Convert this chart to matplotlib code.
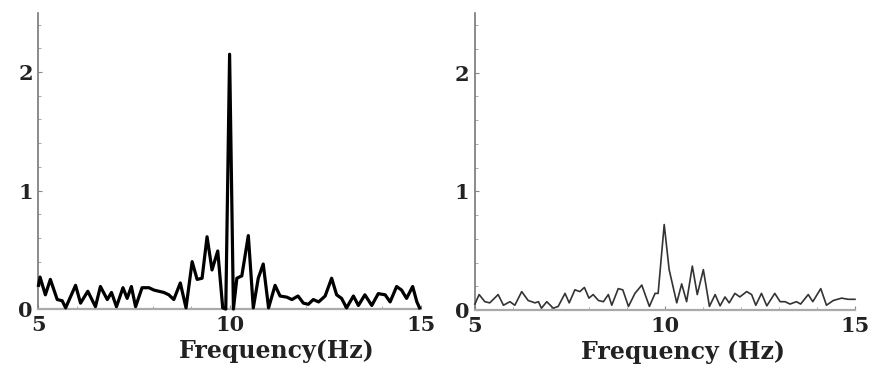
import matplotlib
matplotlib.use("Agg")
import matplotlib.pyplot as plt
from matplotlib.ticker import MultipleLocator

# spectrum before filtering (left) and after (right)
freq_a = [5.00, 5.04, 5.18, 5.31, 5.49, 5.62, 5.71, 5.97, 6.10, 6.29, 6.49, 6.62,
          6.80, 6.91, 7.04, 7.21, 7.32, 7.43, 7.54, 7.71, 7.89, 8.02, 8.15, 8.28,
          8.41, 8.54, 8.71, 8.86, 9.02, 9.15, 9.28, 9.41, 9.54, 9.69, 9.82, 9.90,
          10.00, 10.10, 10.19, 10.32, 10.49, 10.62, 10.75, 10.88, 11.02, 11.19, 11.32,
          11.50, 11.63, 11.79, 11.93, 12.06, 12.19, 12.33, 12.50, 12.67, 12.80, 12.93,
          13.06, 13.24, 13.37, 13.54, 13.72, 13.89, 14.07, 14.20, 14.37, 14.50, 14.63,
          14.79, 14.90, 14.97]
amp_a = [0.20, 0.27, 0.12, 0.25, 0.08, 0.07, 0.01, 0.20, 0.05, 0.15, 0.02, 0.19,
         0.08, 0.14, 0.02, 0.18, 0.09, 0.19, 0.02, 0.18, 0.18, 0.16, 0.15, 0.14,
         0.12, 0.08, 0.22, 0.01, 0.40, 0.25, 0.26, 0.61, 0.33, 0.49, 0.01, 0.00,
         2.15, 0.00, 0.26, 0.28, 0.62, 0.01, 0.26, 0.38, 0.01, 0.20, 0.11,
         0.10, 0.08, 0.11, 0.05, 0.04, 0.08, 0.06, 0.11, 0.26, 0.12, 0.09,
         0.01, 0.11, 0.03, 0.12, 0.03, 0.13, 0.12, 0.06, 0.19, 0.16, 0.09,
         0.19, 0.06, 0.01]

freq_b = [5.00, 5.04, 5.11, 5.26, 5.39, 5.61, 5.75, 5.92, 6.05, 6.23, 6.40, 6.58,
          6.67, 6.75, 6.89, 7.06, 7.19, 7.37, 7.48, 7.63, 7.76, 7.88, 8.00, 8.11,
          8.25, 8.38, 8.51, 8.60, 8.77, 8.89, 9.04, 9.21, 9.39, 9.59, 9.74, 9.82,
          9.98, 10.11, 10.31, 10.44, 10.57, 10.72, 10.85, 11.01, 11.17, 11.32, 11.45,
          11.58, 11.69, 11.84, 11.97, 12.15, 12.28, 12.39, 12.54, 12.68, 12.89, 13.03,
          13.16, 13.29, 13.46, 13.57, 13.77, 13.89, 14.10, 14.25, 14.43, 14.65, 14.82,
          15.00]
amp_b = [0.05, 0.08, 0.13, 0.07, 0.06, 0.13, 0.04, 0.07, 0.04, 0.155, 0.08, 0.06,
         0.07, 0.015, 0.07, 0.015, 0.03, 0.14, 0.06, 0.17, 0.155, 0.19, 0.10, 0.13,
         0.08, 0.07, 0.13, 0.04, 0.18, 0.17, 0.03, 0.14, 0.21, 0.03, 0.14, 0.14,
         0.72, 0.34, 0.06, 0.22, 0.07, 0.37, 0.13, 0.34, 0.03, 0.13, 0.035,
         0.11, 0.06, 0.14, 0.11, 0.155, 0.13, 0.04, 0.14, 0.035, 0.14, 0.07,
         0.07, 0.05, 0.07, 0.05, 0.13, 0.07, 0.18, 0.04, 0.08, 0.10, 0.09,
         0.09]

xticks = [5, 10, 15]
yticks = [0, 1, 2]

plt.rcParams['font.family'] = 'DejaVu Serif'
plt.rcParams['font.weight'] = 'bold'

fig = plt.figure(figsize=(8.71, 3.82), dpi=100)
ax1 = fig.add_axes([0.0442, 0.191, 0.4388, 0.7755])
ax2 = fig.add_axes([0.5453, 0.1885, 0.4363, 0.7768])

panels = [
    (ax1, freq_a, amp_a, 'black', 2.3, 'Frequency(Hz)', 0.624),
    (ax2, freq_b, amp_b, '#333333', 1.2, 'Frequency (Hz)', 0.547),
]

for ax, f, a, col, lw, lab, lx in panels:
    ax.plot(f, a, color=col, lw=lw, solid_joinstyle='round', clip_on=False, zorder=3)
    ax.set_xlim(5, 15)
    ax.set_ylim(0, 2.5)
    ax.set_xticks(xticks)
    ax.set_yticks(yticks)
    ax.yaxis.set_minor_locator(MultipleLocator(0.2))
    ax.xaxis.set_minor_locator(MultipleLocator(1))
    for s in ['top', 'right']:
        ax.spines[s].set_visible(False)
    ax.spines['left'].set_color('#777777')
    ax.spines['left'].set_linewidth(1.2)
    ax.spines['bottom'].set_color('#aaaaaa')
    ax.spines['bottom'].set_linewidth(1.6)
    ax.tick_params(axis='both', which='major', direction='in', length=3,
                   color='#888888', labelsize=15, labelcolor='#222222')
    ax.tick_params(axis='both', which='minor', direction='in', length=2,
                   color='#999999')
    ax.tick_params(axis='x', pad=4)
    ax.tick_params(axis='y', pad=4)
    ax.set_xlabel(lab, fontsize=17, fontweight='bold', color='#222222')
    ax.xaxis.set_label_coords(lx, -0.1)

fig.savefig('out.png', dpi=100)
